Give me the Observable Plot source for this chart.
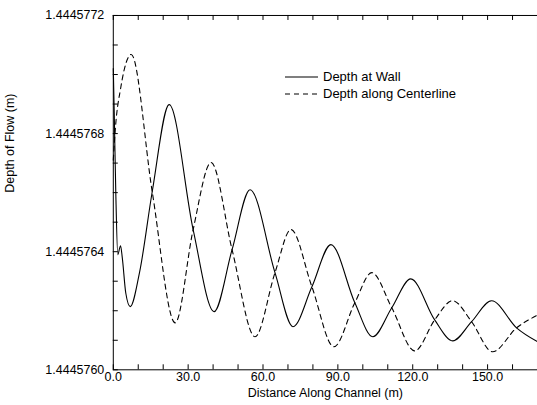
<!DOCTYPE html>
<html>
<head>
<meta charset="utf-8">
<script src="https://cdn.jsdelivr.net/npm/d3@7"></script>
<script src="https://cdn.jsdelivr.net/npm/@observablehq/plot@0.6"></script>
<style>
  html, body { margin: 0; padding: 0; background: #fff; overflow: hidden; }
  #wrap { position: relative; width: 537px; height: 405px; overflow: hidden; }
  #legend { position: absolute; left: 285px; top: 68px; font-family: "Liberation Sans", Arial, sans-serif; font-size: 13px; color: #000; }
  #legend .row { display: flex; align-items: center; height: 17px; }
  #legend svg { margin-right: 5px; }
</style>
</head>
<body>
<div id="wrap"></div>
<script>
// Data
const wallX = [0, 0.4, 1.0, 1.8, 2.9, 3.6, 5.0, 6.8, 10.5, 15.6, 22.4, 32.0, 40.4, 47.6, 54.8, 64.8, 72.0, 79.6, 87.2, 96.8, 104.0, 111.6, 119.2, 128.8, 136.0, 143.6, 151.6, 161.6, 170];
const wallY = [1.44457702, 1.44457686, 1.44457660, 1.44457639, 1.44457642, 1.44457638, 1.44457626, 1.444576214, 1.444576329, 1.444576603, 1.444576898, 1.444576475, 1.444576197, 1.444576407, 1.444576610, 1.444576329, 1.444576146, 1.444576281, 1.444576424, 1.444576227, 1.444576112, 1.444576210, 1.444576308, 1.444576169, 1.444576098, 1.444576163, 1.444576234, 1.444576142, 1.444576095];
const centerX = [0, 0.8, 3.0, 7.2, 15.6, 24.8, 32.0, 39.2, 47.6, 56.8, 64.8, 71.2, 79.6, 88.4, 96.8, 103.6, 111.6, 120.8, 128.8, 136.0, 143.6, 152.0, 161.6, 170];
const centerY = [1.444576710, 1.444576814, 1.444576956, 1.444577068, 1.444576603, 1.444576159, 1.444576475, 1.444576702, 1.444576407, 1.444576112, 1.444576329, 1.444576475, 1.444576281, 1.444576078, 1.444576227, 1.444576329, 1.444576210, 1.444576064, 1.444576169, 1.444576234, 1.444576163, 1.444576061, 1.444576142, 1.444576185];
const yMajor = [1.4445760, 1.4445764, 1.4445768, 1.4445772];
const yMinor = [1.4445760, 1.4445761, 1.4445762, 1.4445763, 1.4445764, 1.4445765, 1.4445766, 1.4445767, 1.4445768, 1.4445769, 1.4445770, 1.4445771, 1.4445772];
const xMajor = [0, 30, 60, 90, 120, 150];
const xMinor = [0, 10, 20, 30, 40, 50, 60, 70, 80, 90, 100, 110, 120, 130, 140, 150, 160];
const legendLabels = ["Depth at Wall", "Depth along Centerline"];
const xLabel = "Distance Along Channel (m)";
const yLabel = "Depth of Flow (m)";

const wall = wallX.map((x, i) => ({x, y: wallY[i]}));
const center = centerX.map((x, i) => ({x, y: centerY[i]}));

const W = 538, H = 405, ML = 113, MR = 0, MT = 15, MB = 35;
const plotW = W - ML - MR, plotH = H - MT - MB, tick = 5;

const chart = Plot.plot({
  width: W, height: H,
  marginLeft: ML, marginRight: MR, marginTop: MT, marginBottom: MB,
  x: {domain: [0, 170]},
  y: {domain: [1.4445760, 1.4445772]},
  style: {fontFamily: "'Liberation Sans', Arial, sans-serif", fontSize: "12.5px", background: "white", color: "black"},
  marks: [
    Plot.frame({stroke: "black"}),
    Plot.ruleY(yMinor, {y: d => d, insetRight: plotW - tick, stroke: "black"}),
    Plot.ruleX(xMinor, {x: d => d, insetTop: plotH - tick, stroke: "black"}),
    Plot.ruleX(xMinor, {x: d => d, insetBottom: plotH - tick, stroke: "black"}),
    Plot.axisY({ticks: yMajor, tickSize: 0, tickPadding: 9, tickFormat: d3.format(".7f"), label: null}),
    Plot.axisX({ticks: xMajor, tickSize: 0, tickPadding: 2, tickFormat: d3.format(".1f"), label: null}),
    Plot.line(wall, {x: "x", y: "y", curve: "monotone-x", stroke: "black", strokeWidth: 1.1}),
    Plot.line(center, {x: "x", y: "y", curve: "monotone-x", stroke: "black", strokeWidth: 1.1, strokeDasharray: "5,4"}),
    Plot.text([yLabel], {frameAnchor: "left", rotate: -90, dx: -103, fontSize: 12.5}),
    Plot.text([xLabel], {frameAnchor: "bottom", dy: 27, fontSize: 12.5})
  ]
});

const wrap = document.getElementById("wrap");
wrap.appendChild(chart);

const legend = document.createElement("div");
legend.id = "legend";
legendLabels.forEach((lab, i) => {
  const row = document.createElement("div");
  row.className = "row";
  row.innerHTML = `<svg width="33" height="4"><line x1="0" y1="2" x2="33" y2="2" stroke="black" stroke-width="1.1" ${i === 1 ? 'stroke-dasharray="5,4"' : ''}/></svg><span></span>`;
  row.querySelector("span").textContent = lab;
  legend.appendChild(row);
});
wrap.appendChild(legend);
</script>
</body>
</html>
